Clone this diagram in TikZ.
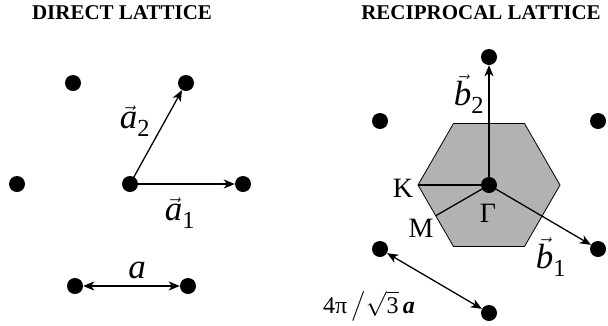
\documentclass[tikz,border=0pt]{standalone}
\usepackage{amsmath}
\usepackage{fontspec}
\setmainfont{Liberation Serif}
\usetikzlibrary{arrows.meta}
\tikzset{pt/.style={circle,fill=black,inner sep=0pt,minimum size=16pt},
 vec/.style={-{Stealth[length=11pt,width=9pt,inset=3pt]},line width=1.3pt},
 dvec/.style={{Stealth[length=11pt,width=9pt,inset=3pt]}-{Stealth[length=11pt,width=9pt,inset=3pt]},line width=1.3pt},
 ttl/.style={anchor=base,font=\fontsize{21}{25}\selectfont\bfseries},
 lbl/.style={inner sep=0pt,font=\fontsize{35}{40}\selectfont},
 sym/.style={anchor=base,font=\fontsize{28}{32}\selectfont},
 bz/.style={draw=black,line width=.8pt,fill=black!30}}
\newcommand{\vlab}[2]{$\vec{\text{\itshape #1}}_{\text{#2}}$}

\begin{document}
\begin{tikzpicture}[x=1pt,y=-1pt]
\useasboundingbox (0,0) rectangle (608,325);
\node[ttl] (t1) at (122,19) {DIRECT LATTICE};
\node[ttl] (t2) at (481,19) {RECIPROCAL LATTICE};
\foreach \n/\x/\y in {p1/73/83,p2/186/83,p3/17/184,o/130/184,p4/243/184,p5/75/286,p6/188/286}
 {\node[pt] (\n) at (\x,\y) {};}
\draw[vec] (o.center) -- (p4);
\draw[vec] (o.center) -- (p2);
\draw[dvec] (p5) -- (p6);
\node[lbl] (la2) at (135,121) {\vlab{a}{2}};
\node[lbl] (la1) at (180,213) {\vlab{a}{1}};
\node[lbl,anchor=base] (la) at (137,278) {\itshape a};
\coordinate (k) at (418,185);\coordinate (h1) at (453.5,123.5);
\coordinate (h2) at (524.5,123.5);\coordinate (h3) at (560,185);
\coordinate (h4) at (524.5,246.5);\coordinate (h5) at (453.5,246.5);
\coordinate (m) at (435.75,215.75);
\draw[bz] (k) -- (h1) -- (h2) -- (h3) -- (h4) -- (h5) -- cycle;
\foreach \n/\x/\y in {q1/489/57,q2/380/121,q3/598/121,g/489/185,q4/380/249,q5/598/249,q6/489/313}
 {\node[pt] (\n) at (\x,\y) {};}
\draw[line width=1.3pt] (g.center) -- (k);
\draw[line width=1.3pt] (g.center) -- (m);
\draw[vec] (g.center) -- (q1);
\draw[vec] (g.center) -- (q5);
\draw[dvec] (q4) -- (q6);
\node[lbl] (lb2) at (469,94) {\vlab{b}{2}};
\node[lbl] (lb1) at (551,257) {\vlab{b}{1}};
\node[sym] (lk) at (403,197) {K};
\node[sym] (lm) at (421,237) {M};
\node[sym] (lg) at (488,222) {Γ};
\node[anchor=base,font=\fontsize{24}{28}\selectfont] (ld) at (369,313) {4π$\,\big/\sqrt{\text{3}}\,$\textbf{\textit{a}}};
\end{tikzpicture}
\end{document}
